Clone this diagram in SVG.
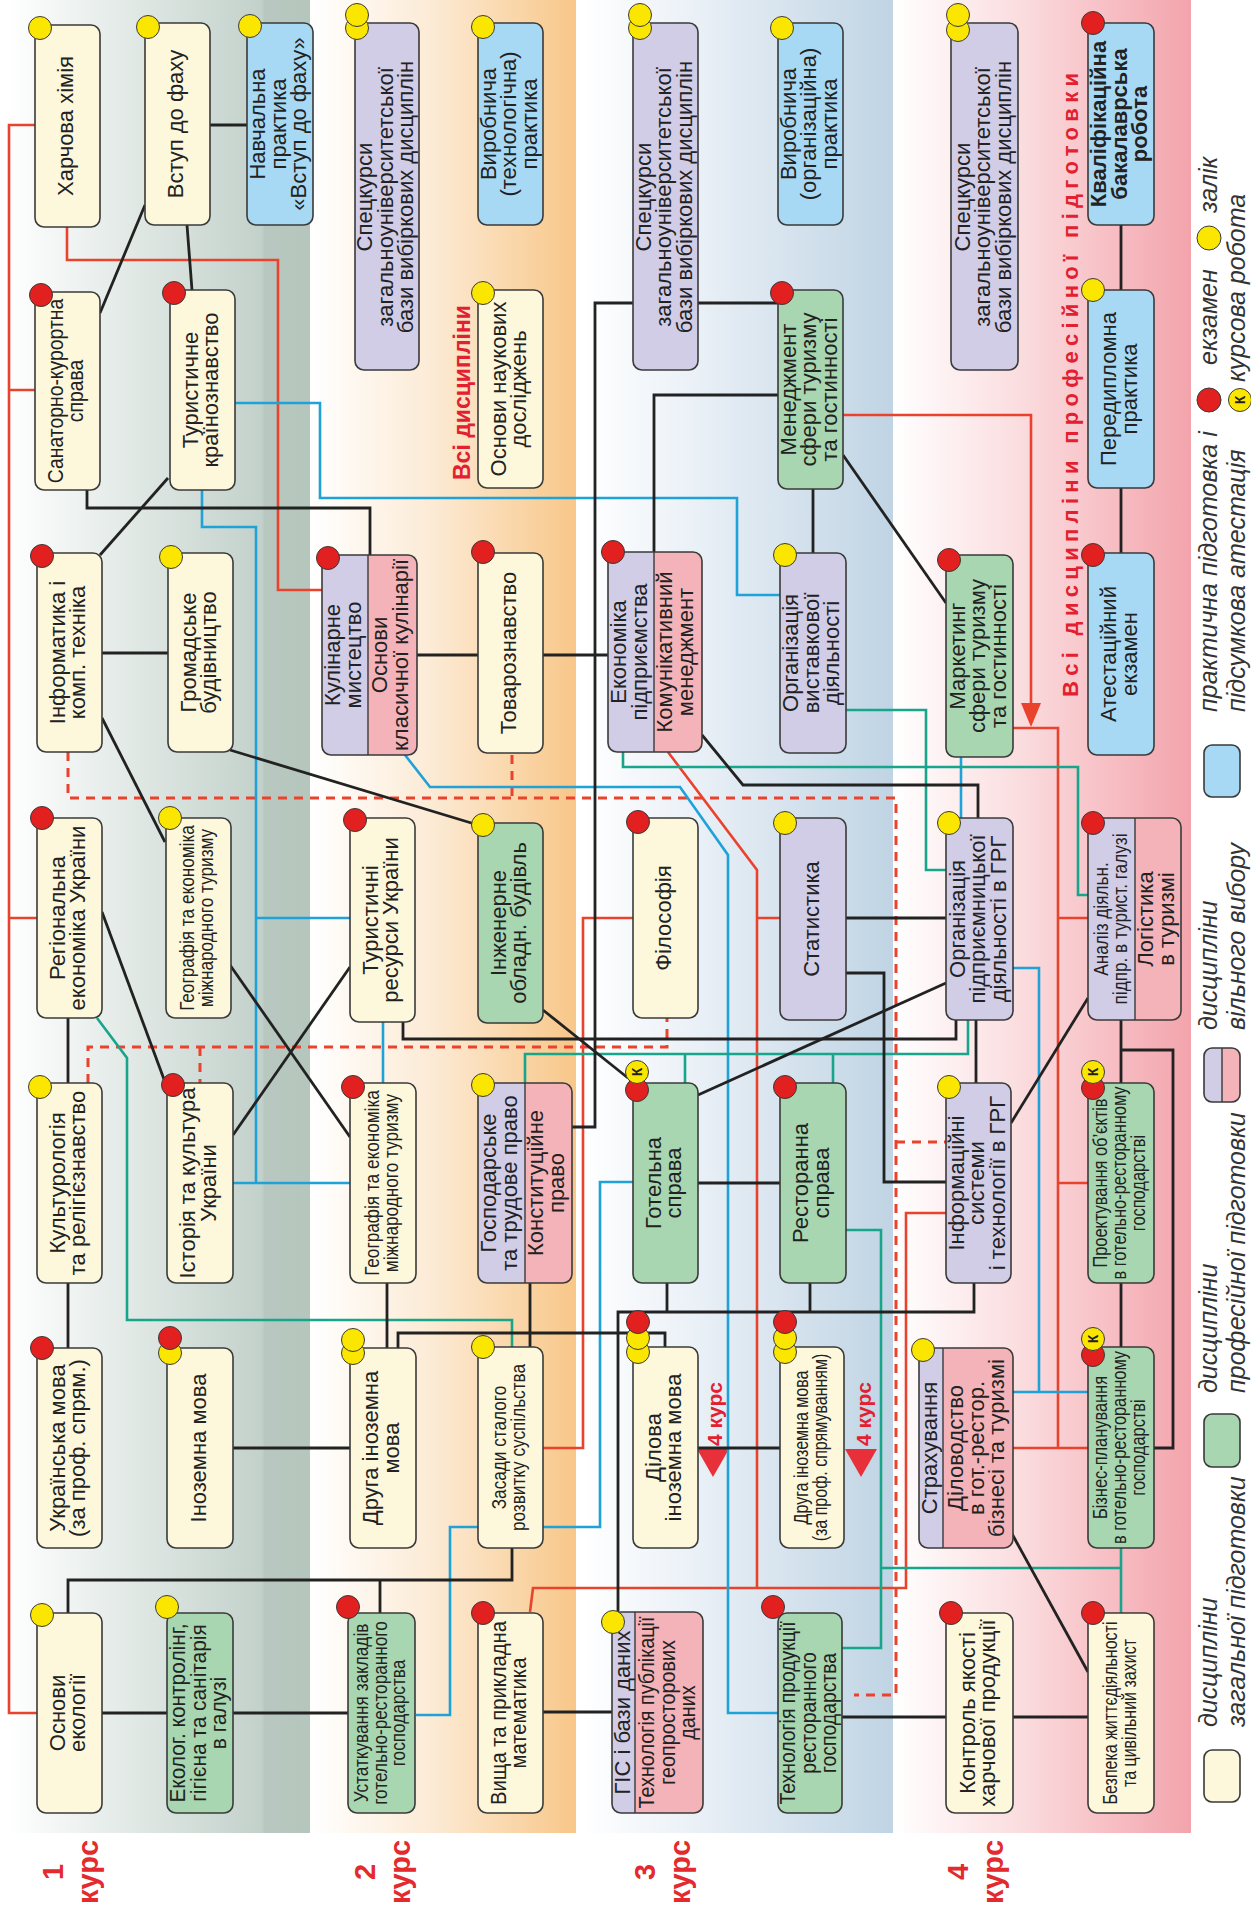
<svg xmlns="http://www.w3.org/2000/svg" width="1251" height="1916" viewBox="0 0 1251 1916">
<style>
.bx{stroke:#3a3a3a;stroke-width:1.6}
.cr{fill:#fdf8dc}.gr{fill:#a8d6b0}.lv{fill:#d1cde7}.pk{fill:#f4b3b9}.bl{fill:#a7d9f4}
.o{fill:none;stroke:#3a3a3a;stroke-width:1.6}
.dv{stroke:#3a3a3a;stroke-width:1.4}
.cy{fill:#fbe600;stroke:#3a3a3a;stroke-width:1}
.cR{fill:#e2201f;stroke:#3a3a3a;stroke-width:1}
.t{font-family:"Liberation Sans",Arial,sans-serif;font-size:22px;fill:#222;text-anchor:middle}
.c{font-size:20px}
.bd{font-weight:bold}
.kt{font-family:"Liberation Sans",Arial,sans-serif;font-size:14px;font-weight:bold;fill:#222;text-anchor:middle}
.k{fill:none;stroke:#222;stroke-width:2.8}
.r{fill:none;stroke:#e9432e;stroke-width:2.6}
.u{fill:none;stroke:#1ea2d8;stroke-width:2.6}
.g{fill:none;stroke:#17a68b;stroke-width:2.6}
.d{fill:none;stroke:#e9432e;stroke-width:3;stroke-dasharray:9 7}
.lab{font-family:"Liberation Sans",Arial,sans-serif;font-size:29px;font-weight:bold;fill:#e32a2f;text-anchor:middle}
.rb{font-family:"Liberation Sans",Arial,sans-serif;font-weight:bold;fill:#e3202f}
.lg{font-family:"Liberation Sans",Arial,sans-serif;font-size:25px;font-style:italic;fill:#333}
</style>
<defs>
<linearGradient id="bg1" x1="0" y1="0" x2="1" y2="0">
<stop offset="0" stop-color="#ffffff"/><stop offset="0.5" stop-color="#dbe4e0"/><stop offset="0.84" stop-color="#c3d1cb"/><stop offset="0.85" stop-color="#b8c8c0"/><stop offset="1" stop-color="#b5c6bd"/>
</linearGradient>
<linearGradient id="bg2" x1="0" y1="0" x2="1" y2="0">
<stop offset="0" stop-color="#ffffff"/><stop offset="0.45" stop-color="#fcebd6"/><stop offset="1" stop-color="#f8c789"/>
</linearGradient>
<linearGradient id="bg3" x1="0" y1="0" x2="1" y2="0">
<stop offset="0" stop-color="#ffffff"/><stop offset="0.35" stop-color="#ebf1f7"/><stop offset="1" stop-color="#c0d4e4"/>
</linearGradient>
<linearGradient id="bg4" x1="0" y1="0" x2="1" y2="0">
<stop offset="0" stop-color="#ffffff"/><stop offset="0.4" stop-color="#fbdfe1"/><stop offset="1" stop-color="#f3a4ac"/>
</linearGradient>
</defs>
<rect width="1251" height="1916" fill="#ffffff"/>
<g id="bands">
<rect x="7" y="0" width="303" height="1833" fill="url(#bg1)"/>
<rect x="310" y="0" width="266" height="1833" fill="url(#bg2)"/>
<rect x="582" y="0" width="311" height="1833" fill="url(#bg3)"/>
<rect x="893" y="0" width="298" height="1833" fill="url(#bg4)"/>
</g>
<g id="headings">
<text class="lab" transform="translate(80 1872) rotate(-90)"><tspan x="0" y="-17">1</tspan><tspan x="0" y="18">курс</tspan></text>
<text class="lab" transform="translate(392 1872) rotate(-90)"><tspan x="0" y="-17">2</tspan><tspan x="0" y="18">курс</tspan></text>
<text class="lab" transform="translate(672 1872) rotate(-90)"><tspan x="0" y="-17">3</tspan><tspan x="0" y="18">курс</tspan></text>
<text class="lab" transform="translate(985 1872) rotate(-90)"><tspan x="0" y="-17">4</tspan><tspan x="0" y="18">курс</tspan></text>
<text class="rb" font-size="23" transform="translate(470 480) rotate(-90)">Всі дисципліни</text>
<text class="rb" font-size="22" transform="translate(1078 697) rotate(-90)" textLength="624" lengthAdjust="spacing">Всі дисципліни професійної підготовки</text>
<text class="rb" font-size="21" transform="translate(722 1446) rotate(-90)">4 курс</text>
<text class="rb" font-size="21" transform="translate(871 1446) rotate(-90)">4 курс</text>
<polygon points="697,1449 729,1449 713,1477" fill="#e8303a"/>
<polygon points="845,1449 877,1449 861,1477" fill="#e8303a"/>
</g>
<g id="connectors">
<path class="r" d="M35,125 H9 V1713 H37 M9,390 H35 M9,918 H37"/>
<path class="r" d="M67,227 V260 H278 V590 H322"/>
<path class="r" d="M843,415 H1031 V705"/>
<polygon points="1021,703 1041,703 1031,727" fill="#e9432e"/>
<path class="r" d="M1013,728 H1058 V1448 M1058,918 H1088 M1058,1183 H1088 M1013,1448 H1088"/>
<path class="r" d="M668,752 L757,870 V1588 M757,918 H780"/>
<path class="r" d="M633,918 H583 V1448 H543"/>
<path class="r" d="M946,1213 H906 V1588 H533 L530,1612"/>
<path class="d" d="M68,752 V798 H896 V1695 H854 M512,755 V798 M896,1142 H946"/>
<path class="d" d="M88,1083 V1047 H667 V1018 M200,1047 V1083"/>
<path class="u" d="M235,403 H320 V498 H737 V595 H780"/>
<path class="u" d="M202,490 V527 H256 V1183 M256,918 H350 M233,1183 H350"/>
<path class="u" d="M383,1022 V1083"/>
<path class="u" d="M405,755 L430,787 H680 L728,855 V1713 H778"/>
<path class="u" d="M961,757 V818"/>
<path class="u" d="M633,1182 H600 V1527 H450 V1715 H416"/>
<path class="u" d="M1013,968 H1039 V1392 H1013 M1039,1392 H1088"/>
<path class="g" d="M623,752 V767 H1078 V895 H1088"/>
<path class="g" d="M846,710 H926 V870 H948"/>
<path class="g" d="M97,1018 L127,1058 V1320 H512 V1347"/>
<path class="g" d="M525,1083 V1054 H968 V1020 M685,1054 V1083 M833,1054 V1083"/>
<path class="g" d="M846,1230 H881 V1648 H842 M881,1568 H1121 M1121,1548 V1613"/>
<path class="k" d="M210,125 H247"/>
<path class="k" d="M145,205 L100,313"/>
<path class="k" d="M187,225 L192,290"/>
<path class="k" d="M87,490 V508 H370 V555"/>
<path class="k" d="M168,478 L100,555"/>
<path class="k" d="M102,653 H168"/>
<path class="k" d="M102,718 L165,842"/>
<path class="k" d="M230,750 L478,825"/>
<path class="k" d="M417,655 H478 M543,655 H608"/>
<path class="k" d="M780,303 H595 V1127 H572"/>
<path class="k" d="M780,395 H654 V552"/>
<path class="k" d="M813,489 V553"/>
<path class="k" d="M843,455 L946,603"/>
<path class="k" d="M702,735 L743,785 H978 V818"/>
<path class="k" d="M846,918 H946"/>
<path class="k" d="M1121,225 V290 M1121,488 V553"/>
<path class="k" d="M68,1018 V1083 M68,1283 V1348"/>
<path class="k" d="M102,912 L165,1082"/>
<path class="k" d="M233,1135 L350,967"/>
<path class="k" d="M230,965 L350,1137"/>
<path class="k" d="M403,1022 V1039 H956 V1020"/>
<path class="k" d="M543,1010 L628,1078"/>
<path class="k" d="M698,1095 L946,983"/>
<path class="k" d="M698,1183 H780"/>
<path class="k" d="M618,1612 V1312 H974 V1283 M667,1283 V1312 M810,1283 V1312"/>
<path class="k" d="M530,1283 V1347"/>
<path class="k" d="M387,1283 V1348"/>
<path class="k" d="M398,1348 V1333 H665 V1347"/>
<path class="k" d="M233,1448 H350"/>
<path class="k" d="M698,1448 H780"/>
<path class="k" d="M68,1613 V1580 H512 V1548 M380,1580 V1613"/>
<path class="k" d="M102,1713 H167 M233,1713 H348"/>
<path class="k" d="M543,1712 H612"/>
<path class="k" d="M1121,1020 V1083 M1121,1050 H1173 V1448 H1154"/>
<path class="k" d="M1011,1123 L1088,998"/>
<path class="k" d="M846,973 H884 V1182 H946"/>
<path class="k" d="M976,1020 V1083"/>
<path class="k" d="M1121,1283 V1347"/>
<path class="k" d="M1011,1532 L1088,1672"/>
<path class="k" d="M842,1717 H946 M1013,1717 H1088"/>
</g>
<g id="n1"><rect class="bx cr" x="35" y="25" width="65" height="202" rx="9"/><text class="t" transform="translate(67.5 126) rotate(-90)"><tspan x="0" y="5.5">Харчова хімія</tspan></text><circle class="cy" cx="40" cy="28" r="11.5"/></g>
<g id="n2"><rect class="bx cr" x="145" y="23" width="65" height="202" rx="9"/><text class="t" transform="translate(177.5 124) rotate(-90)"><tspan x="0" y="5.5">Вступ до фаху</tspan></text><circle class="cy" cx="148" cy="27" r="11.5"/></g>
<g id="n3"><rect class="bx bl" x="247" y="23" width="66" height="202" rx="9"/><text class="t" transform="translate(280 124) rotate(-90)"><tspan x="0" y="-15">Навчальна</tspan><tspan x="0" y="5.5">практика</tspan><tspan x="0" y="26">«Вступ до фаху»</tspan></text><circle class="cy" cx="250" cy="26" r="11.5"/></g>
<g id="n4"><rect class="bx cr" x="35" y="292" width="65" height="198" rx="9"/><text class="t" transform="translate(67.5 391) rotate(-90) scale(0.88 1)"><tspan x="0" y="-4.8">Санаторно-курортна</tspan><tspan x="0" y="15.7">справа</tspan></text><circle class="cR" cx="41" cy="295" r="11.5"/></g>
<g id="n5"><rect class="bx cr" x="170" y="290" width="65" height="200" rx="9"/><text class="t" transform="translate(202.5 390) rotate(-90)"><tspan x="0" y="-4.8">Туристичне</tspan><tspan x="0" y="15.7">країнознавство</tspan></text><circle class="cR" cx="174" cy="293" r="11.5"/></g>
<g id="n6"><rect class="bx cr" x="37" y="553" width="65" height="199" rx="9"/><text class="t" transform="translate(69.5 652.5) rotate(-90)"><tspan x="0" y="-4.8">Інформатика і</tspan><tspan x="0" y="15.7">комп. техніка</tspan></text><circle class="cR" cx="42" cy="556" r="11.5"/></g>
<g id="n7"><rect class="bx cr" x="168" y="553" width="65" height="199" rx="9"/><text class="t" transform="translate(200.5 652.5) rotate(-90)"><tspan x="0" y="-4.8">Громадське</tspan><tspan x="0" y="15.7">будівництво</tspan></text><circle class="cy" cx="171" cy="557" r="11.5"/></g>
<g id="n8"><rect class="bx cr" x="37" y="818" width="65" height="200" rx="9"/><text class="t" transform="translate(69.5 918) rotate(-90)"><tspan x="0" y="-4.8">Регіональна</tspan><tspan x="0" y="15.7">економіка України</tspan></text><circle class="cR" cx="42" cy="818" r="11.5"/></g>
<g id="n9"><rect class="bx cr" x="166" y="818" width="65" height="200" rx="9"/><text class="t c" transform="translate(198.5 918) rotate(-90) scale(0.86 1)"><tspan x="0" y="-4.5">Географія та економіка</tspan><tspan x="0" y="14.5">міжнародного туризму</tspan></text><circle class="cy" cx="170" cy="818" r="11.5"/></g>
<g id="n10"><rect class="bx cr" x="37" y="1083" width="65" height="200" rx="9"/><text class="t" transform="translate(69.5 1183) rotate(-90)"><tspan x="0" y="-4.8">Культурологія</tspan><tspan x="0" y="15.7">та релігієзнавство</tspan></text><circle class="cy" cx="40" cy="1087" r="11.5"/></g>
<g id="n11"><rect class="bx cr" x="167" y="1083" width="66" height="200" rx="9"/><text class="t" transform="translate(200 1183) rotate(-90)"><tspan x="0" y="-4.8">Історія та культура</tspan><tspan x="0" y="15.7">України</tspan></text><circle class="cR" cx="173" cy="1085" r="11.5"/></g>
<g id="n12"><rect class="bx cr" x="37" y="1348" width="65" height="200" rx="9"/><text class="t" transform="translate(69.5 1448) rotate(-90)"><tspan x="0" y="-4.8">Українська мова</tspan><tspan x="0" y="15.7">(за проф. спрям.)</tspan></text><circle class="cR" cx="42" cy="1348" r="11.5"/></g>
<g id="n13"><rect class="bx cr" x="167" y="1348" width="66" height="200" rx="9"/><text class="t" transform="translate(200 1448) rotate(-90)"><tspan x="0" y="5.5">Іноземна мова</tspan></text><circle class="cy" cx="170" cy="1353" r="11.5"/><circle class="cR" cx="170" cy="1338" r="11.5"/></g>
<g id="n14"><rect class="bx cr" x="37" y="1613" width="65" height="200" rx="9"/><text class="t" transform="translate(69.5 1713) rotate(-90)"><tspan x="0" y="-4.8">Основи</tspan><tspan x="0" y="15.7">екології</tspan></text><circle class="cy" cx="42" cy="1615" r="11.5"/></g>
<g id="n15"><rect class="bx gr" x="167" y="1613" width="66" height="200" rx="9"/><text class="t" transform="translate(200 1713) rotate(-90) scale(0.95 1)"><tspan x="0" y="-15">Еколог. контролінг,</tspan><tspan x="0" y="5.5">гігієна та санітарія</tspan><tspan x="0" y="26">в галузі</tspan></text><circle class="cy" cx="167" cy="1607" r="11.5"/></g>
<g id="n16"><rect class="bx lv" x="355" y="23" width="64" height="347" rx="9"/><text class="t" transform="translate(387 197) rotate(-90)"><tspan x="0" y="-15">Спецкурси</tspan><tspan x="0" y="5.5">загальноуніверситетської</tspan><tspan x="0" y="26">бази вибіркових дисциплін</tspan></text><circle class="cy" cx="357" cy="28" r="11.5"/><circle class="cy" cx="357" cy="15" r="11.5"/></g>
<g id="n17"><rect class="bx bl" x="478" y="23" width="65" height="202" rx="9"/><text class="t" transform="translate(510.5 124) rotate(-90)"><tspan x="0" y="-15">Виробнича</tspan><tspan x="0" y="5.5">(технологічна)</tspan><tspan x="0" y="26">практика</tspan></text><circle class="cy" cx="483" cy="27" r="11.5"/></g>
<g id="n18"><rect class="bx cr" x="478" y="290" width="65" height="198" rx="9"/><text class="t" transform="translate(510.5 389) rotate(-90)"><tspan x="0" y="-4.8">Основи наукових</tspan><tspan x="0" y="15.7">досліджень</tspan></text><circle class="cy" cx="483" cy="293" r="11.5"/></g>
<g id="n19"><rect class="lv" x="322" y="555" width="95" height="200" rx="9"/><path class="pk" d="M368,555 H408 A9,9 0 0 1 417,564 V746 A9,9 0 0 1 408,755 H368 Z"/><line class="dv" x1="368" y1="555" x2="368" y2="755"/><rect class="o" x="322" y="555" width="95" height="200" rx="9"/><text class="t" transform="translate(345 655) rotate(-90)"><tspan x="0" y="-4.8">Кулінарне</tspan><tspan x="0" y="15.7">мистецтво</tspan></text><text class="t" transform="translate(392 655) rotate(-90)"><tspan x="0" y="-4.8">Основи</tspan><tspan x="0" y="15.7">класичної кулінарії</tspan></text><circle class="cR" cx="328" cy="558" r="11.5"/></g>
<g id="n20"><rect class="bx cr" x="478" y="553" width="65" height="200" rx="9"/><text class="t" transform="translate(510.5 653) rotate(-90)"><tspan x="0" y="5.5">Товарознавство</tspan></text><circle class="cR" cx="483" cy="552" r="11.5"/></g>
<g id="n21"><rect class="bx cr" x="350" y="818" width="65" height="204" rx="9"/><text class="t" transform="translate(382.5 920) rotate(-90)"><tspan x="0" y="-4.8">Туристичні</tspan><tspan x="0" y="15.7">ресурси України</tspan></text><circle class="cR" cx="355" cy="820" r="11.5"/></g>
<g id="n22"><rect class="bx gr" x="478" y="823" width="65" height="200" rx="9"/><text class="t" transform="translate(510.5 923) rotate(-90)"><tspan x="0" y="-4.8">Інженерне</tspan><tspan x="0" y="15.7">обладн. будівль</tspan></text><circle class="cy" cx="483" cy="825" r="11.5"/></g>
<g id="n23"><rect class="bx cr" x="350" y="1083" width="66" height="200" rx="9"/><text class="t c" transform="translate(383 1183) rotate(-90) scale(0.86 1)"><tspan x="0" y="-4.5">Географія та економіка</tspan><tspan x="0" y="14.5">міжнародного туризму</tspan></text><circle class="cR" cx="353" cy="1087" r="11.5"/></g>
<g id="n24"><rect class="lv" x="478" y="1083" width="94" height="200" rx="9"/><path class="pk" d="M525,1083 H563 A9,9 0 0 1 572,1092 V1274 A9,9 0 0 1 563,1283 H525 Z"/><line class="dv" x1="525" y1="1083" x2="525" y2="1283"/><rect class="o" x="478" y="1083" width="94" height="200" rx="9"/><text class="t" transform="translate(501 1183) rotate(-90)"><tspan x="0" y="-4.8">Господарське</tspan><tspan x="0" y="15.7">та трудове право</tspan></text><text class="t" transform="translate(548 1183) rotate(-90)"><tspan x="0" y="-4.8">Конституційне</tspan><tspan x="0" y="15.7">право</tspan></text><circle class="cy" cx="483" cy="1085" r="11.5"/></g>
<g id="n25"><rect class="bx cr" x="350" y="1348" width="66" height="200" rx="9"/><text class="t" transform="translate(383 1448) rotate(-90)"><tspan x="0" y="-4.8">Друга іноземна</tspan><tspan x="0" y="15.7">мова</tspan></text><circle class="cy" cx="353" cy="1353" r="11.5"/><circle class="cy" cx="353" cy="1340" r="11.5"/></g>
<g id="n26"><rect class="bx cr" x="478" y="1347" width="65" height="201" rx="9"/><text class="t c" transform="translate(510.5 1447.5) rotate(-90) scale(0.86 1)"><tspan x="0" y="-4.5">Засади сталого</tspan><tspan x="0" y="14.5">розвитку суспільства</tspan></text><circle class="cy" cx="483" cy="1347" r="11.5"/></g>
<g id="n27"><rect class="bx gr" x="348" y="1613" width="67" height="200" rx="9"/><text class="t c" transform="translate(381.5 1713) rotate(-90) scale(0.86 1)"><tspan x="0" y="-14">Устаткування закладів</tspan><tspan x="0" y="5">готельно-ресторанного</tspan><tspan x="0" y="24">господарства</tspan></text><circle class="cR" cx="348" cy="1607" r="11.5"/></g>
<g id="n28"><rect class="bx cr" x="478" y="1613" width="65" height="200" rx="9"/><text class="t" transform="translate(510.5 1713) rotate(-90) scale(0.92 1)"><tspan x="0" y="-4.8">Вища та прикладна</tspan><tspan x="0" y="15.7">математика</tspan></text><circle class="cR" cx="483" cy="1613" r="11.5"/></g>
<g id="n29"><rect class="bx lv" x="633" y="23" width="65" height="347" rx="9"/><text class="t" transform="translate(665.5 197) rotate(-90)"><tspan x="0" y="-15">Спецкурси</tspan><tspan x="0" y="5.5">загальноуніверситетської</tspan><tspan x="0" y="26">бази вибіркових дисциплін</tspan></text><circle class="cy" cx="640" cy="28" r="11.5"/><circle class="cy" cx="640" cy="15" r="11.5"/></g>
<g id="n30"><rect class="bx bl" x="778" y="23" width="65" height="202" rx="9"/><text class="t" transform="translate(810.5 124) rotate(-90)"><tspan x="0" y="-15">Виробнича</tspan><tspan x="0" y="5.5">(організаційна)</tspan><tspan x="0" y="26">практика</tspan></text><circle class="cy" cx="782" cy="28" r="11.5"/></g>
<g id="n31"><rect class="bx gr" x="778" y="290" width="65" height="199" rx="9"/><text class="t" transform="translate(810.5 389.5) rotate(-90)"><tspan x="0" y="-15">Менеджмент</tspan><tspan x="0" y="5.5">сфери туризму</tspan><tspan x="0" y="26">та гостинності</tspan></text><circle class="cR" cx="782" cy="293" r="11.5"/></g>
<g id="n32"><rect class="lv" x="608" y="552" width="94" height="200" rx="9"/><path class="pk" d="M654,552 H693 A9,9 0 0 1 702,561 V743 A9,9 0 0 1 693,752 H654 Z"/><line class="dv" x1="654" y1="552" x2="654" y2="752"/><rect class="o" x="608" y="552" width="94" height="200" rx="9"/><text class="t" transform="translate(631 652) rotate(-90)"><tspan x="0" y="-4.8">Економіка</tspan><tspan x="0" y="15.7">підприємства</tspan></text><text class="t" transform="translate(677 652) rotate(-90)"><tspan x="0" y="-4.8">Комунікативний</tspan><tspan x="0" y="15.7">менеджмент</tspan></text><circle class="cR" cx="613" cy="552" r="11.5"/></g>
<g id="n33"><rect class="bx lv" x="780" y="553" width="66" height="200" rx="9"/><text class="t" transform="translate(813 653) rotate(-90)"><tspan x="0" y="-15">Організація</tspan><tspan x="0" y="5.5">виставкової</tspan><tspan x="0" y="26">діяльності</tspan></text><circle class="cy" cx="785" cy="555" r="11.5"/></g>
<g id="n34"><rect class="bx cr" x="633" y="818" width="65" height="200" rx="9"/><text class="t" transform="translate(665.5 918) rotate(-90)"><tspan x="0" y="5.5">Філософія</tspan></text><circle class="cR" cx="638" cy="822" r="11.5"/></g>
<g id="n35"><rect class="bx lv" x="780" y="818" width="66" height="202" rx="9"/><text class="t" transform="translate(813 919) rotate(-90)"><tspan x="0" y="5.5">Статистика</tspan></text><circle class="cy" cx="785" cy="823" r="11.5"/></g>
<g id="n36"><rect class="bx gr" x="633" y="1083" width="65" height="200" rx="9"/><text class="t" transform="translate(665.5 1183) rotate(-90)"><tspan x="0" y="-4.8">Готельна</tspan><tspan x="0" y="15.7">справа</tspan></text><circle class="cR" cx="637" cy="1090" r="11.5"/><circle class="cy" cx="637" cy="1072" r="11.5"/><text class="kt" transform="translate(637 1072) rotate(-90)" y="5">К</text></g>
<g id="n37"><rect class="bx gr" x="780" y="1083" width="66" height="200" rx="9"/><text class="t" transform="translate(813 1183) rotate(-90)"><tspan x="0" y="-4.8">Ресторанна</tspan><tspan x="0" y="15.7">справа</tspan></text><circle class="cR" cx="785" cy="1087" r="11.5"/></g>
<g id="n38"><rect class="bx cr" x="633" y="1347" width="65" height="201" rx="9"/><text class="t" transform="translate(665.5 1447.5) rotate(-90)"><tspan x="0" y="-4.8">Ділова</tspan><tspan x="0" y="15.7">іноземна мова</tspan></text><circle class="cy" cx="638" cy="1352" r="11.5"/><circle class="cy" cx="638" cy="1338" r="11.5"/><circle class="cR" cx="638" cy="1322" r="11.5"/></g>
<g id="n39"><rect class="bx cr" x="780" y="1347" width="64" height="201" rx="9"/><text class="t c" transform="translate(812 1447.5) rotate(-90) scale(0.8 1)"><tspan x="0" y="-4.5">Друга іноземна мова</tspan><tspan x="0" y="14.5">(за проф. спрямуванням)</tspan></text><circle class="cy" cx="785" cy="1352" r="11.5"/><circle class="cy" cx="785" cy="1338" r="11.5"/><circle class="cR" cx="785" cy="1322" r="11.5"/></g>
<g id="n40"><rect class="lv" x="612" y="1612" width="91" height="201" rx="9"/><path class="pk" d="M635,1612 H694 A9,9 0 0 1 703,1621 V1804 A9,9 0 0 1 694,1813 H635 Z"/><line class="dv" x1="635" y1="1612" x2="635" y2="1813"/><rect class="o" x="612" y="1612" width="91" height="201" rx="9"/><text class="t" transform="translate(624 1712.5) rotate(-90)"><tspan x="0" y="5.5">ГІС і бази даних</tspan></text><text class="t" transform="translate(669 1712.5) rotate(-90) scale(0.9 1)"><tspan x="0" y="-15">Технологія публікації</tspan><tspan x="0" y="5.5">геопросторових</tspan><tspan x="0" y="26">даних</tspan></text><circle class="cy" cx="613" cy="1622" r="11.5"/></g>
<g id="n41"><rect class="bx gr" x="778" y="1613" width="64" height="200" rx="9"/><text class="t" transform="translate(810 1713) rotate(-90) scale(0.88 1)"><tspan x="0" y="-15">Технологія продукції</tspan><tspan x="0" y="5.5">ресторанного</tspan><tspan x="0" y="26">господарства</tspan></text><circle class="cR" cx="773" cy="1607" r="11.5"/></g>
<g id="n42"><rect class="bx lv" x="951" y="23" width="67" height="347" rx="9"/><text class="t" transform="translate(984.5 197) rotate(-90)"><tspan x="0" y="-15">Спецкурси</tspan><tspan x="0" y="5.5">загальноуніверситетської</tspan><tspan x="0" y="26">бази вибіркових дисциплін</tspan></text><circle class="cy" cx="958" cy="30" r="11.5"/><circle class="cy" cx="958" cy="15" r="11.5"/></g>
<g id="n43"><rect class="bx bl" x="1088" y="23" width="66" height="202" rx="9"/><text class="t bd" transform="translate(1121 124) rotate(-90)"><tspan x="0" y="-15">Кваліфікаційна</tspan><tspan x="0" y="5.5">бакалаврська</tspan><tspan x="0" y="26">робота</tspan></text><circle class="cR" cx="1093" cy="23" r="11.5"/></g>
<g id="n44"><rect class="bx bl" x="1088" y="290" width="66" height="198" rx="9"/><text class="t" transform="translate(1121 389) rotate(-90)"><tspan x="0" y="-4.8">Передипломна</tspan><tspan x="0" y="15.7">практика</tspan></text><circle class="cy" cx="1093" cy="290" r="11.5"/></g>
<g id="n45"><rect class="bx gr" x="946" y="555" width="67" height="202" rx="9"/><text class="t" transform="translate(979.5 656) rotate(-90)"><tspan x="0" y="-15">Маркетинг</tspan><tspan x="0" y="5.5">сфери туризму</tspan><tspan x="0" y="26">та гостинності</tspan></text><circle class="cR" cx="949" cy="560" r="11.5"/></g>
<g id="n46"><rect class="bx bl" x="1088" y="553" width="66" height="202" rx="9"/><text class="t" transform="translate(1121 654) rotate(-90)"><tspan x="0" y="-4.8">Атестаційний</tspan><tspan x="0" y="15.7">екзамен</tspan></text><circle class="cR" cx="1093" cy="555" r="11.5"/></g>
<g id="n47"><rect class="bx lv" x="946" y="818" width="67" height="202" rx="9"/><text class="t" transform="translate(979.5 919) rotate(-90)"><tspan x="0" y="-15">Організація</tspan><tspan x="0" y="5.5">підприємницької</tspan><tspan x="0" y="26">діяльності в ГРГ</tspan></text><circle class="cy" cx="949" cy="823" r="11.5"/></g>
<g id="n48"><rect class="lv" x="1088" y="818" width="93" height="202" rx="9"/><path class="pk" d="M1135,818 H1172 A9,9 0 0 1 1181,827 V1011 A9,9 0 0 1 1172,1020 H1135 Z"/><line class="dv" x1="1135" y1="818" x2="1135" y2="1020"/><rect class="o" x="1088" y="818" width="93" height="202" rx="9"/><text class="t c" transform="translate(1112 919) rotate(-90) scale(0.86 1)"><tspan x="0" y="-4.5">Аналіз діяльн.</tspan><tspan x="0" y="14.5">підпр. в турист. галузі</tspan></text><text class="t" transform="translate(1158 919) rotate(-90)"><tspan x="0" y="-4.8">Логістика</tspan><tspan x="0" y="15.7">в туризмі</tspan></text><circle class="cR" cx="1093" cy="823" r="11.5"/></g>
<g id="n49"><rect class="bx lv" x="946" y="1083" width="65" height="200" rx="9"/><text class="t" transform="translate(978.5 1183) rotate(-90)"><tspan x="0" y="-15">Інформаційні</tspan><tspan x="0" y="5.5">системи</tspan><tspan x="0" y="26">і технології в ГРГ</tspan></text><circle class="cy" cx="949" cy="1087" r="11.5"/></g>
<g id="n50"><rect class="bx gr" x="1088" y="1083" width="66" height="200" rx="9"/><text class="t c" transform="translate(1121 1183) rotate(-90) scale(0.82 1)"><tspan x="0" y="-14">Проектування об’єктів</tspan><tspan x="0" y="5">в готельно-ресторанному</tspan><tspan x="0" y="24">господарстві</tspan></text><circle class="cR" cx="1093" cy="1088" r="11.5"/><circle class="cy" cx="1093" cy="1072" r="11.5"/><text class="kt" transform="translate(1093 1072) rotate(-90)" y="5">К</text></g>
<g id="n51"><rect class="lv" x="919" y="1348" width="94" height="200" rx="9"/><path class="pk" d="M943,1348 H1004 A9,9 0 0 1 1013,1357 V1539 A9,9 0 0 1 1004,1548 H943 Z"/><line class="dv" x1="943" y1="1348" x2="943" y2="1548"/><rect class="o" x="919" y="1348" width="94" height="200" rx="9"/><text class="t" transform="translate(931 1448) rotate(-90)"><tspan x="0" y="5.5">Страхування</tspan></text><text class="t" transform="translate(978 1448) rotate(-90)"><tspan x="0" y="-15">Діловодство</tspan><tspan x="0" y="5.5">в гот.-рестор.</tspan><tspan x="0" y="26">бізнесі та туризмі</tspan></text><circle class="cy" cx="923" cy="1350" r="11.5"/></g>
<g id="n52"><rect class="bx gr" x="1088" y="1347" width="66" height="201" rx="9"/><text class="t c" transform="translate(1121 1447.5) rotate(-90) scale(0.82 1)"><tspan x="0" y="-14">Бізнес-планування</tspan><tspan x="0" y="5">в готельно-ресторанному</tspan><tspan x="0" y="24">господарстві</tspan></text><circle class="cR" cx="1093" cy="1355" r="11.5"/><circle class="cy" cx="1093" cy="1339" r="11.5"/><text class="kt" transform="translate(1093 1339) rotate(-90)" y="5">К</text></g>
<g id="n53"><rect class="bx cr" x="946" y="1613" width="67" height="200" rx="9"/><text class="t" transform="translate(979.5 1713) rotate(-90)"><tspan x="0" y="-4.8">Контроль якості</tspan><tspan x="0" y="15.7">харчової продукції</tspan></text><circle class="cR" cx="951" cy="1613" r="11.5"/></g>
<g id="n54"><rect class="bx cr" x="1088" y="1613" width="66" height="200" rx="9"/><text class="t c" transform="translate(1121 1713) rotate(-90) scale(0.8 1)"><tspan x="0" y="-4.5">Безпека життєдіяльності</tspan><tspan x="0" y="14.5">та цивільний захист</tspan></text><circle class="cR" cx="1093" cy="1613" r="11.5"/></g>
<g id="legend">
<circle class="cR" cx="1209" cy="400" r="12"/>
<text class="lg" transform="translate(1217 365) rotate(-90)">екзамен</text>
<circle class="cy" cx="1209" cy="238" r="12"/>
<text class="lg" transform="translate(1217 213) rotate(-90)">залік</text>
<circle class="cy" cx="1240" cy="400" r="11.5"/>
<text class="kt" transform="translate(1240 400) rotate(-90)" y="5">К</text>
<text class="lg" transform="translate(1245 382) rotate(-90)">курсова робота</text>
<rect class="bx bl" x="1204" y="745" width="36" height="52" rx="8"/>
<text class="lg" transform="translate(1217 712) rotate(-90)"><tspan x="0" y="0">практична підготовка і</tspan><tspan x="0" y="28">підсумкова атестація</tspan></text>
<rect class="lv" x="1204" y="1048" width="36" height="54" rx="8"/>
<path class="pk" d="M1222,1048 H1232 A8,8 0 0 1 1240,1056 V1094 A8,8 0 0 1 1232,1102 H1222 Z"/>
<line class="dv" x1="1222" y1="1048" x2="1222" y2="1102"/>
<rect class="o" x="1204" y="1048" width="36" height="54" rx="8"/>
<text class="lg" transform="translate(1217 1030) rotate(-90)"><tspan x="0" y="0">дисципліни</tspan><tspan x="0" y="28">вільного вибору</tspan></text>
<rect class="bx gr" x="1204" y="1414" width="36" height="53" rx="8"/>
<text class="lg" transform="translate(1217 1393) rotate(-90)"><tspan x="0" y="0">дисципліни</tspan><tspan x="0" y="28">професійної підготовки</tspan></text>
<rect class="bx cr" x="1204" y="1750" width="36" height="52" rx="8"/>
<text class="lg" transform="translate(1217 1727) rotate(-90)"><tspan x="0" y="0">дисципліни</tspan><tspan x="0" y="28">загальної підготовки</tspan></text>
</g>
</svg>
